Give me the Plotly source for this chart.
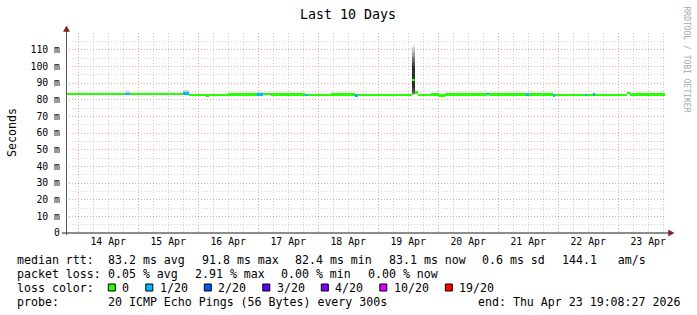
import pandas as pd
import plotly.graph_objects as go

# ---------------- data ----------------
TITLE = "Last 10 Days"
Y_TITLE = "Seconds"
WATERMARK = "RRDTOOL / TOBI OETIKER"
graph_start = "2026-04-13 19:08:27"
graph_end = "2026-04-23 19:08:27"

day_ticks = ["2026-04-14", "2026-04-15", "2026-04-16", "2026-04-17", "2026-04-18",
             "2026-04-19", "2026-04-20", "2026-04-21", "2026-04-22", "2026-04-23"]
day_labels = ["14 Apr", "15 Apr", "16 Apr", "17 Apr", "18 Apr",
              "19 Apr", "20 Apr", "21 Apr", "22 Apr", "23 Apr"]
minor_hours = [6, 12, 18]

y_tick_ms = [0, 10, 20, 30, 40, 50, 60, 70, 80, 90, 100, 110]
y_tick_labels = ["0", "10 m", "20 m", "30 m", "40 m", "50 m", "60 m",
                 "70 m", "80 m", "90 m", "100 m", "110 m"]
y_minor_ms = [5, 15, 25, 35, 45, 55, 65, 75, 85, 95, 105, 115]
y_max_ms = 120

# median rtt segments (start time, median in ms, lost pings out of 20)
seg_start = ["2026-04-13 19:08", "2026-04-14 18:35", "2026-04-14 20:35", "2026-04-15 17:55",
             "2026-04-15 20:20", "2026-04-16 03:00", "2026-04-16 04:30", "2026-04-16 12:00",
             "2026-04-16 23:30", "2026-04-17 02:00", "2026-04-17 05:00", "2026-04-17 18:45",
             "2026-04-17 20:00", "2026-04-18 05:00", "2026-04-18 14:40", "2026-04-18 15:50",
             "2026-04-19 00:00", "2026-04-19 13:30", "2026-04-19 14:40", "2026-04-19 16:00",
             "2026-04-19 21:00", "2026-04-20 00:20", "2026-04-20 02:40", "2026-04-20 19:30",
             "2026-04-20 20:30", "2026-04-21 11:00", "2026-04-21 12:15", "2026-04-21 21:45",
             "2026-04-21 22:40", "2026-04-22 10:40", "2026-04-22 11:30", "2026-04-22 13:50",
             "2026-04-22 14:40", "2026-04-23 03:30", "2026-04-23 04:40"]
seg_median_ms = [83.4, 83.5, 83.4, 83.9,
                 82.9, 82.6, 82.9, 83.1,
                 83.2, 83.4, 83.0, 82.9,
                 82.8, 83.0, 82.4, 82.8,
                 82.9, 91.8, 84.2, 82.9,
                 83.1, 82.7, 83.1, 83.5,
                 83.2, 83.0, 83.1, 82.6,
                 82.9, 82.8, 82.9, 83.0,
                 82.9, 84.0, 83.2]
seg_loss = [0, 1, 0, 1,
            0, 0, 0, 0,
            1, 0, 0, 1,
            0, 0, 1, 0,
            0, 0, 0, 0,
            0, 0, 0, 1,
            0, 1, 0, 1,
            0, 1, 0, 1,
            0, 0, 0]
data_end = "2026-04-23 18:50"

# small smoke patches (min..max of the pings)
smoke_start = ["2026-04-14 18:35", "2026-04-15 17:55", "2026-04-16 23:30", "2026-04-20 19:30"]
smoke_end = ["2026-04-14 20:35", "2026-04-15 20:20", "2026-04-17 02:00", "2026-04-20 20:30"]
smoke_low_ms = [83.2, 83.4, 83.0, 83.2]
smoke_high_ms = [85.2, 85.6, 84.4, 84.6]

# the spike: the 20 sorted pings
spike_start = "2026-04-19 13:30"
spike_end = "2026-04-19 14:40"
spike_pings_ms = [82.9, 83.0, 83.1, 83.3, 83.5, 83.8, 84.2, 85.0, 87.0, 91.0,
                  92.6, 100.5, 102.0, 103.5, 105.0, 106.5, 108.0, 109.5, 111.0, 112.5]

loss_levels = [0, 1, 2, 3, 4, 10, 19]
loss_labels = ["0", "1/20", "2/20", "3/20", "4/20", "10/20", "19/20"]
loss_colors = ["#26ff00", "#00b8ff", "#0059ff", "#5e00ff", "#7e00ff", "#dd00ff", "#ff0000"]

rtt_label = "median rtt:"
rtt_items = ["83.2 ms avg", "91.8 ms max", "82.4 ms min", "83.1 ms now", "0.6 ms sd", "144.1   am/s"]
loss_label = "packet loss:"
loss_items = ["0.05 % avg", "2.91 % max", "0.00 % min", "0.00 % now"]
color_label = "loss color:"
probe_label = "probe:"
probe_text = "20 ICMP Echo Pings (56 Bytes) every 300s"
end_text = "end: Thu Apr 23 19:08:27 2026"

# ---------------- layout geometry ----------------
W, H = 697, 315
L, T, PW, PH = 66, 33, 600, 200
FONT = "DejaVu Sans Mono"
CW = 7.0       # legend char width
GAP = 16.5     # legend item gap


def px2x(px):
    return (px - L) / PW


def px2y(py):
    return (T + PH - py) / PH


fig = go.Figure()

# smoke patches
s0 = pd.to_datetime(pd.Series(smoke_start))
s1 = pd.to_datetime(pd.Series(smoke_end))
fig.add_trace(go.Bar(
    x=s0 + (s1 - s0) / 2,
    width=[(b - a).total_seconds() * 1000 for a, b in zip(s0, s1)],
    base=[v / 1000 for v in smoke_low_ms],
    y=[(h - l) / 1000 for l, h in zip(smoke_low_ms, smoke_high_ms)],
    marker=dict(color="#d2d2d2", line=dict(width=0)),
    hoverinfo="skip", showlegend=False))

# spike smoke (outer pairs lighter, inner darker)
sp0 = pd.Timestamp(spike_start)
sp1 = pd.Timestamp(spike_end)
n = len(spike_pings_ms)
half = n // 2
for i in range(half):
    lo = spike_pings_ms[i]
    hi = spike_pings_ms[n - 1 - i]
    g = int(225 - 200 * i / (half - 1))
    fig.add_trace(go.Bar(
        x=[sp0 + (sp1 - sp0) / 2],
        width=[(sp1 - sp0).total_seconds() * 1000],
        base=[lo / 1000], y=[(hi - lo) / 1000],
        marker=dict(color="rgb(%d,%d,%d)" % (g, g, g), line=dict(width=0)),
        hoverinfo="skip", showlegend=False))

# median band coloured by loss
starts = pd.to_datetime(pd.Series(seg_start))
ends = pd.to_datetime(pd.Series(seg_start[1:] + [data_end]))
band = 1.6  # ms thickness of the median band
color_of = dict(zip(loss_levels, loss_colors))
fig.add_trace(go.Bar(
    x=starts + (ends - starts) / 2,
    width=[(b - a).total_seconds() * 1000 for a, b in zip(starts, ends)],
    base=[(m - band / 2) / 1000 for m in seg_median_ms],
    y=[band / 1000] * len(seg_median_ms),
    marker=dict(color=[color_of[k] for k in seg_loss], line=dict(width=0)),
    hoverinfo="skip", showlegend=False))

# label/minor-grid axis: 06h, 12h, 18h marks, label at noon
x2_vals, x2_text = [], []
for d, lab in zip(day_ticks, day_labels):
    for hh in minor_hours:
        x2_vals.append(pd.Timestamp(d) + pd.Timedelta(hours=hh))
        x2_text.append(lab if hh == 12 else "")
# invisible carrier so that the label axis (x2) gets drawn
fig.add_trace(go.Scatter(x=x2_vals, y=[None] * len(x2_vals), xaxis="x2", yaxis="y",
                         mode="markers", marker=dict(opacity=0),
                         hoverinfo="skip", showlegend=False))

grid_red = "rgba(222,48,48,0.42)"
grid_gray = "rgba(130,130,130,0.35)"
DASH = "1px,2px"

fig.update_layout(
    width=W, height=H,
    margin=dict(l=L, r=W - L - PW, t=T, b=H - T - PH, pad=0),
    paper_bgcolor="white", plot_bgcolor="white",
    barmode="overlay", bargap=0, showlegend=False,
    font=dict(family=FONT, size=10, color="black"),
    xaxis=dict(
        type="date", range=[graph_start, graph_end],
        tickmode="array", tickvals=day_ticks, showticklabels=False, ticks="",
        showgrid=True, gridcolor=grid_red, griddash=DASH, gridwidth=1,
        showline=False, zeroline=False, fixedrange=True),
    xaxis2=dict(
        type="date", range=[graph_start, graph_end], overlaying="x", anchor="y", side="bottom",
        tickmode="array", tickvals=x2_vals, ticktext=x2_text, ticks="",
        tickfont=dict(family=FONT, size=9.8, color="black"),
        showgrid=True, gridcolor=grid_gray, griddash=DASH, gridwidth=1,
        showline=False, zeroline=False, ticklabelstandoff=1),
    yaxis=dict(
        range=[0, y_max_ms / 1000], tickmode="array",
        tickvals=[v / 1000 for v in y_tick_ms], ticktext=y_tick_labels, ticks="",
        tickfont=dict(family=FONT, size=9.8, color="black"),
        showgrid=True, gridcolor=grid_red, griddash=DASH, gridwidth=1,
        minor=dict(tickmode="array", tickvals=[v / 1000 for v in y_minor_ms], showgrid=True,
                   gridcolor=grid_gray, griddash=DASH, gridwidth=1),
        showline=False, zeroline=False, ticklabelstandoff=5),
)

shapes = []
# axes
shapes.append(dict(type="line", xref="paper", yref="paper", x0=px2x(62), x1=px2x(669),
                   y0=px2y(233), y1=px2y(233), line=dict(color="#1a1a1a", width=1), layer="above"))
shapes.append(dict(type="line", xref="paper", yref="paper", x0=px2x(66.5), x1=px2x(66.5),
                   y0=px2y(235), y1=px2y(30), line=dict(color="#555555", width=1), layer="above"))
# arrows
shapes.append(dict(type="path", xref="paper", yref="paper",
                   path="M %f,%f L %f,%f L %f,%f Z" % (px2x(674), px2y(233), px2x(668.5), px2y(230),
                                                        px2x(668.5), px2y(236)),
                   fillcolor="#7f1f1f", line=dict(color="#7f1f1f", width=0.5), layer="above"))
shapes.append(dict(type="path", xref="paper", yref="paper",
                   path="M %f,%f L %f,%f L %f,%f Z" % (px2x(66.5), px2y(26), px2x(63.5), px2y(31.5),
                                                        px2x(69.5), px2y(31.5)),
                   fillcolor="#7f1f1f", line=dict(color="#7f1f1f", width=0.5), layer="above"))

ann = []


def text(px, py, s, size=11.6, anchor="left", color="black", angle=0, yanchor="middle"):
    ann.append(dict(x=px2x(px), y=px2y(py), xref="paper", yref="paper", text=s,
                    showarrow=False, xanchor=anchor, yanchor=yanchor, textangle=angle,
                    font=dict(family=FONT, size=size, color=color), borderpad=0))


text(348, 14, TITLE, size=13.3, anchor="center")
text(12, 133, Y_TITLE, size=11.6, anchor="center", angle=-90)
text(686.5, 59, WATERMARK, size=8.0, anchor="center", color="#a8a8a8", angle=90)

ITEM0 = 107.3
rows_y = [260, 273.5, 287.5, 301.5]

# row 1
text(16, rows_y[0], rtt_label)
x = ITEM0
for s in rtt_items:
    text(x, rows_y[0], s.replace(" ", "\u00a0"))
    x += len(s) * CW + GAP
# row 2
text(16, rows_y[1], loss_label)
x = ITEM0
for s in loss_items:
    text(x, rows_y[1], s.replace(" ", "\u00a0"))
    x += len(s) * CW + GAP
# row 3
text(16, rows_y[2], color_label)
x = ITEM0
for lab, col in zip(loss_labels, loss_colors):
    shapes.append(dict(type="rect", xref="paper", yref="paper",
                       x0=px2x(x + 1), x1=px2x(x + 8),
                       y0=px2y(rows_y[2] - 3.5), y1=px2y(rows_y[2] + 3.5),
                       fillcolor=col, line=dict(color="black", width=1), layer="above"))
    text(x + 14, rows_y[2], lab)
    x += 14 + len(lab) * CW + GAP
# row 4
text(16, rows_y[3], probe_label)
text(ITEM0, rows_y[3], probe_text.replace(" ", "\u00a0"))
text(681, rows_y[3], end_text.replace(" ", "\u00a0"), anchor="right")

fig.update_layout(shapes=shapes, annotations=ann)
fig.write_html("out.html")
